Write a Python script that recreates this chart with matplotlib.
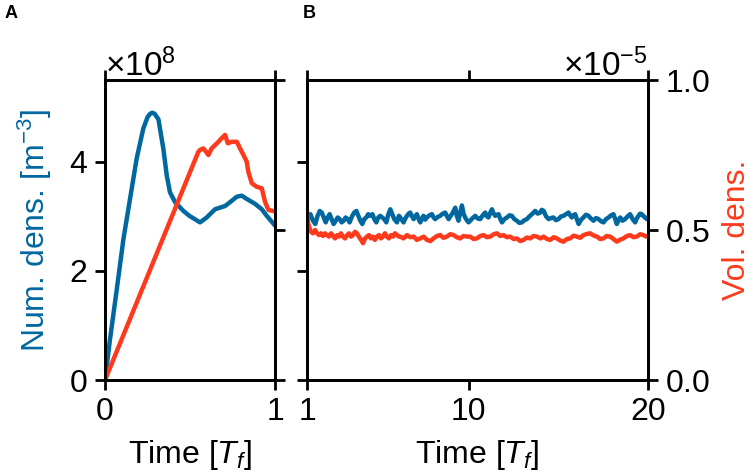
import matplotlib
matplotlib.use("Agg")
import matplotlib.pyplot as plt
import numpy as np
from matplotlib.ticker import NullFormatter, ScalarFormatter

plt.rcParams['font.family'] = ['Liberation Sans', 'DejaVu Sans']
plt.rcParams['mathtext.fontset'] = 'custom'
plt.rcParams['mathtext.rm'] = 'Liberation Sans'
plt.rcParams['mathtext.it'] = 'Liberation Sans:italic'
plt.rcParams['mathtext.bf'] = 'Liberation Sans:bold'

BLUE = '#00689f'
RED = '#ff3a1c'

# ---- Panel A data (number density in 1e8 m^-3, volume density in 1e-5) ----
tA_num = [0, 0.029, 0.069, 0.108, 0.147, 0.186, 0.225, 0.25, 0.265, 0.278, 0.292, 0.314,
          0.343, 0.363, 0.382, 0.412, 0.461, 0.496, 0.559, 0.598, 0.647, 0.676, 0.706,
          0.735, 0.775, 0.804, 0.833, 0.882, 0.922, 0.951, 1.0]
numA = [0, 0.74, 1.66, 2.58, 3.32, 4.06, 4.61, 4.82, 4.88, 4.90, 4.88, 4.78,
        4.24, 3.75, 3.44, 3.26, 3.10, 3.01, 2.89, 2.98, 3.13, 3.16, 3.19,
        3.26, 3.36, 3.38, 3.32, 3.23, 3.13, 3.01, 2.83]

tA_vol = [0, 0.549, 0.559, 0.578, 0.594, 0.608, 0.627, 0.647, 0.667, 0.686, 0.706,
          0.722, 0.745, 0.775, 0.794, 0.814, 0.833, 0.843, 0.863, 0.892, 0.922,
          0.941, 0.961, 0.99, 1.0]
volA = [0, 0.761, 0.767, 0.772, 0.761, 0.75, 0.772, 0.783, 0.794, 0.806, 0.817,
        0.789, 0.794, 0.794, 0.772, 0.75, 0.728, 0.694, 0.656, 0.644, 0.639,
        0.594, 0.567, 0.563, 0.563]

# ---- Panel B data ----
tB_num = [1.0, 1.04, 1.19, 1.33, 1.46, 1.59, 1.71, 1.82, 1.93, 2.04, 2.15, 2.26, 2.37, 2.48,
          2.60, 2.71, 2.82, 2.93, 3.04, 3.15, 3.26, 3.37, 3.52, 3.63, 3.75, 3.86, 3.97,
          4.08, 4.19, 4.30, 4.41, 4.53, 4.64, 4.75, 4.86, 4.97, 5.08, 5.19, 5.30, 5.42,
          5.53, 5.64, 5.75, 5.86, 6.01, 6.12,
          6.19, 6.29, 6.38, 6.47, 6.57, 6.66, 6.75, 6.85, 6.94, 7.03, 7.12, 7.22, 7.31,
          7.40, 7.49, 7.58, 7.68, 7.82, 7.96, 8.05, 8.14, 8.28, 8.42, 8.56, 8.70, 8.80,
          8.89, 8.98, 9.07, 9.17, 9.26, 9.35, 9.44, 9.54, 9.63, 9.72, 9.81, 9.90, 10.0,
          10.09, 10.23, 10.37, 10.51, 10.65, 10.79, 10.93, 11.02, 11.11, 11.20, 11.30,
          11.40, 11.49, 11.58, 11.67, 11.77, 11.86, 12.00, 12.14, 12.28, 12.41, 12.55,
          12.69, 12.83, 12.97, 13.11, 13.25, 13.39, 13.53, 13.62, 13.71, 13.85, 13.99,
          14.08, 14.18, 14.32, 14.46, 14.60, 14.73, 14.87, 15.01, 15.15, 15.29, 15.43,
          15.57, 15.66, 15.75, 15.84, 15.94, 16.03, 16.13, 16.27, 16.40, 16.54, 16.68,
          16.82, 16.96, 17.10, 17.24, 17.38, 17.52, 17.66, 17.80, 17.94, 18.07, 18.17,
          18.26, 18.35, 18.45, 18.58, 18.72, 18.86, 19.00, 19.14, 19.28, 19.37, 19.47,
          19.56, 19.65, 19.79, 19.93, 20.0]
numB = [2.95, 2.95, 3.04, 2.92, 2.86, 3.01, 3.10, 3.07, 2.98, 2.89, 2.98, 3.04, 2.95, 2.86,
        2.92, 2.98, 2.95, 2.89, 2.92, 2.98, 2.95, 2.89, 3.01, 3.07, 3.10, 3.01, 2.92,
        2.86, 2.95, 2.98, 3.04, 3.01, 3.04, 2.95, 2.89, 2.98, 3.01, 2.98, 2.95, 2.89,
        3.04, 3.13, 3.04, 2.95, 2.89, 3.01,
        2.98, 2.93, 2.89, 2.96, 3.01, 3.05, 3.07, 3.00, 2.95, 3.00, 3.04, 2.95, 2.89,
        2.96, 3.01, 2.94, 2.98, 3.02, 3.04, 2.98, 2.95, 2.99, 3.01, 3.05, 3.07, 3.00,
        2.95, 3.00, 3.04, 3.10, 3.16, 3.00, 2.92, 3.08, 3.20, 3.05, 2.98, 2.93, 2.89,
        2.92, 2.97, 3.01, 2.96, 2.95, 3.02, 3.07, 3.00, 2.98, 3.06, 3.13,
        3.05, 3.01, 3.03, 3.04, 2.95, 2.89, 2.95, 2.98, 3.02, 3.01, 2.95,
        2.92, 2.88, 2.89, 2.93, 2.95, 3.00, 3.04, 3.07, 3.10, 3.05, 3.07,
        3.12, 3.10, 3.00, 2.95, 2.97, 2.98, 2.93, 2.95, 3.00, 3.01, 3.04,
        3.07, 3.02, 2.98, 3.02, 3.04, 2.95, 2.86, 2.94, 2.98, 3.03, 3.01,
        2.96, 2.92, 2.97, 2.95, 2.91, 2.89, 2.95, 2.98, 3.02, 3.04, 2.95,
        2.86, 2.93, 2.98, 2.92, 2.95, 3.00, 3.04, 2.95, 2.89, 2.96, 3.01,
        3.05, 3.04, 2.99, 2.95, 2.98]

tB_vol = [1.0, 1.04, 1.11, 1.22, 1.33, 1.45, 1.56, 1.67, 1.78, 1.89, 2.00, 2.11, 2.22, 2.34,
          2.45, 2.56, 2.67, 2.78, 2.89, 3.00, 3.12, 3.23, 3.34, 3.45, 3.56, 3.67, 3.78,
          3.89, 4.01, 4.12, 4.23, 4.34, 4.45, 4.56, 4.67, 4.78, 4.90, 5.01, 5.12, 5.23,
          5.34, 5.45, 5.56, 5.68, 5.79, 5.90, 6.01, 6.12,
          6.19, 6.38, 6.57, 6.75, 6.94, 7.12, 7.31, 7.50, 7.68, 7.87, 8.05, 8.24, 8.42,
          8.60, 8.79, 8.98, 9.16, 9.35, 9.53, 9.72, 9.91, 10.09, 10.28, 10.46, 10.65,
          10.84, 11.02, 11.21, 11.40, 11.58, 11.77, 11.95, 12.14, 12.32, 12.51, 12.69,
          12.88, 13.06, 13.25, 13.43, 13.62, 13.81, 14.00, 14.18, 14.37, 14.55, 14.74,
          14.92, 15.10, 15.29, 15.48, 15.66, 15.85, 16.03, 16.22, 16.40, 16.59, 16.77,
          16.96, 17.15, 17.33, 17.52, 17.70, 17.89, 18.07, 18.26, 18.45, 18.63, 18.82,
          19.00, 19.19, 19.37, 19.56, 19.74, 19.90, 20.0]
volB = [0.56, 0.53, 0.511, 0.494, 0.489, 0.500, 0.489, 0.483, 0.489, 0.480, 0.489, 0.483, 0.478, 0.489,
        0.480, 0.472, 0.483, 0.478, 0.489, 0.478, 0.472, 0.483, 0.489, 0.478, 0.483, 0.494, 0.489,
        0.478, 0.467, 0.456, 0.472, 0.478, 0.483, 0.472, 0.478, 0.467, 0.478, 0.483, 0.472, 0.478,
        0.489, 0.478, 0.472, 0.483, 0.478, 0.489, 0.483, 0.478,
        0.478, 0.472, 0.483, 0.476, 0.478, 0.467, 0.472, 0.478, 0.467, 0.463, 0.472, 0.480, 0.483,
        0.474, 0.478, 0.486, 0.483, 0.476, 0.472, 0.480, 0.478, 0.478, 0.470, 0.472, 0.480,
        0.483, 0.476, 0.478, 0.486, 0.489, 0.480, 0.483, 0.476, 0.478, 0.470, 0.472,
        0.463, 0.467, 0.475, 0.472, 0.480, 0.478, 0.472, 0.478, 0.470, 0.467, 0.476,
        0.472, 0.465, 0.461, 0.470, 0.472, 0.481, 0.478, 0.474, 0.483, 0.487, 0.489,
        0.482, 0.478, 0.470, 0.472, 0.480, 0.478, 0.470, 0.461, 0.468, 0.472, 0.480,
        0.483, 0.476, 0.478, 0.486, 0.483, 0.478, 0.480]

NUM_SCALE = 1e8
VOL_SCALE = 1e-5
FS = 23

fig = plt.figure(figsize=(7.54, 4.74), dpi=100)
axA = fig.add_axes([0.1393, 0.1983, 0.2255, 0.6329])
axA2 = axA.twinx()
axB = fig.add_axes([0.4072, 0.1983, 0.4523, 0.6329])
axB2 = axB.twinx()

LW = 3.2
axA.plot(tA_num, np.array(numA) * NUM_SCALE, color=BLUE, lw=LW)
axA2.plot(tA_vol, np.array(volA) * VOL_SCALE, color=RED, lw=LW)
axB.plot(tB_num, np.array(numB) * NUM_SCALE, color=BLUE, lw=LW)
axB2.plot(tB_vol, np.array(volB) * VOL_SCALE, color=RED, lw=LW)

for ax in (axA, axB):
    ax.set_ylim(0, 5.5 * NUM_SCALE)
    ax.set_yticks([0, 2 * NUM_SCALE, 4 * NUM_SCALE])
for ax in (axA2, axB2):
    ax.set_ylim(0, 1.0 * VOL_SCALE)
    ax.set_yticks([0, 0.5 * VOL_SCALE, 1.0 * VOL_SCALE])

axA.set_xlim(0, 1)
axA.set_xticks([0, 1])
axB.set_xlim(1, 20)
axB.set_xticks([1, 10, 20])

for ax in (axA, axA2, axB, axB2):
    for s in ax.spines.values():
        s.set_linewidth(2.0)
    ax.tick_params(direction='out', length=7.5, width=2.0, labelsize=FS, pad=5)

axA.tick_params(axis='x', top=True, bottom=True)
axB.tick_params(axis='x', top=True, bottom=True)

fmt = ScalarFormatter(useMathText=True)
fmt.set_powerlimits((0, 0))
axA.yaxis.set_major_formatter(fmt)
axA.yaxis.get_offset_text().set_fontsize(FS + 1)

fmt2 = ScalarFormatter(useMathText=True)
fmt2.set_powerlimits((0, 0))
axB2.yaxis.set_major_formatter(fmt2)
axB2.yaxis.get_offset_text().set_fontsize(FS + 1)

axA2.yaxis.set_major_formatter(NullFormatter())
axB.yaxis.set_major_formatter(NullFormatter())
axA2.tick_params(axis='y', labelright=False)
axB.tick_params(axis='y', labelleft=False)

axA.set_ylabel("Num. dens. [m$^{-3}$]", color=BLUE, fontsize=FS, labelpad=11)
axB2.set_ylabel("Vol. dens.", color=RED, fontsize=FS, labelpad=8)
axA.set_xlabel("Time [$T_f$]", fontsize=FS, labelpad=8)
axB.set_xlabel("Time [$T_f$]", fontsize=FS, labelpad=8)

fig.text(0.006, 0.99, "A", fontsize=13, fontweight='bold', va='top', ha='left')
fig.text(0.402, 0.99, "B", fontsize=13, fontweight='bold', va='top', ha='left')

fig.savefig("out.png", dpi=100)
